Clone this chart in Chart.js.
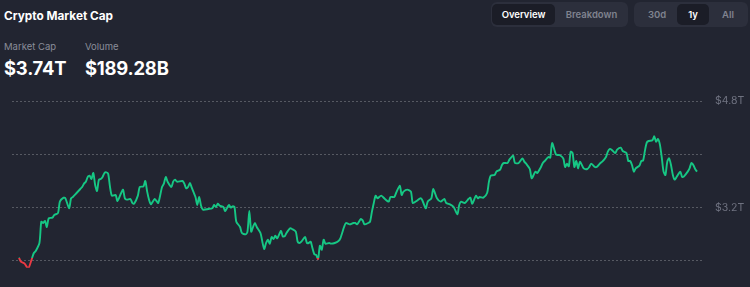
<!DOCTYPE html>
<html lang="en">
<head>
    <meta charset="UTF-8">
    <title>Crypto Market Cap</title>
    <script src="https://cdn.jsdelivr.net/npm/chart.js"></script>
    <style>
        html, body { margin: 0; padding: 0; }
        body {
            width: 750px; height: 287px; overflow: hidden; position: relative;
            background: #222531; font-family: Inter, "Noto Sans", sans-serif; color: #fff;
        }
        .title { position: absolute; left: 4px; top: 9px; font-size: 11.8px; font-weight: 700; }
        .lbl { position: absolute; top: 41px; font-size: 9.5px; color: #8a8d99; }
        .big { position: absolute; top: 57px; font-size: 18.4px; font-weight: 700; letter-spacing: -0.2px; }
        .group { position: absolute; top: 2px; height: 25px; background: #2c2f3c; border-radius: 6px; }
        .btn { position: absolute; top: 2px; height: 21px; line-height: 21px; font-size: 9.5px; font-weight: 600;
               color: #80838f; text-align: center; border-radius: 5px; }
        .btn.on { background: #1b1d27; color: #fff; }
        #wrap { position: absolute; left: 0; top: 88px; width: 750px; height: 199px; }
    </style>
</head>
<body>
    <div class="title">Crypto Market Cap</div>
    <div class="lbl" style="left:4px">Market Cap</div>
    <div class="lbl" style="left:85px">Volume</div>
    <div class="big" style="left:4px">$3.74T</div>
    <div class="big" style="left:85px">$189.28B</div>

    <div class="group" style="left:491px; width:137px">
        <div class="btn on" style="left:1px; width:63px">Overview</div>
        <div class="btn" style="left:66px; width:69px">Breakdown</div>
    </div>
    <div class="group" style="left:634px; width:114px">
        <div class="btn" style="left:4px; width:38px">30d</div>
        <div class="btn on" style="left:43px; width:32px">1y</div>
        <div class="btn" style="left:77px; width:34px">All</div>
    </div>

    <div id="wrap"><canvas id="capChart"></canvas></div>

    <script>
        // day index over the last year
        const days = [
            0, 1, 3, 5, 7, 8, 9, 11, 12, 13,
            14, 15, 16, 18, 19, 21, 22, 24, 25, 27,
            28, 29, 31, 33, 34, 35, 36, 37, 38, 39,
            40, 41, 42, 43, 44, 45, 46, 47, 48, 49,
            50, 52, 53, 55, 56, 57, 58, 60, 61, 62,
            64, 65, 67, 68, 69, 70, 71, 73, 74, 75,
            77, 78, 79, 80, 82, 83, 84, 85, 88, 89,
            90, 91, 92, 93, 95, 96, 97, 98, 99, 102,
            104, 105, 106, 107, 108, 110, 111, 113, 114, 115,
            116, 117, 119, 120, 122, 123, 124, 125, 126, 127,
            128, 130, 131, 132, 133, 134, 135, 136, 137, 138,
            139, 141, 142, 143, 144, 146, 147, 149, 150, 151,
            152, 154, 155, 156, 157, 158, 159, 160, 161, 162,
            163, 164, 165, 167, 168, 170, 172, 173, 175, 176,
            178, 180, 181, 182, 184, 185, 186, 188, 189, 190,
            191, 192, 193, 195, 197, 199, 200, 202, 203, 205,
            206, 207, 209, 211, 212, 214, 216, 217, 219, 220,
            222, 223, 225, 227, 229, 230, 232, 234, 236, 237,
            238, 240, 242, 243, 244, 246, 247, 248, 250, 252,
            253, 254, 256, 257, 259, 260, 261, 263, 264, 266,
            267, 269, 271, 272, 273, 275, 276, 278, 279, 281,
            282, 283, 285, 286, 287, 289, 290, 291, 293, 294,
            295, 296, 297, 298, 299, 300, 301, 302, 304, 306,
            307, 308, 310, 311, 313, 314, 316, 317, 318, 319,
            321, 322, 324, 325, 327, 328, 329, 330, 331, 332,
            334, 335, 336, 337, 338, 339, 341, 342, 343, 344,
            345, 346, 347, 348, 349, 350, 351, 352, 353, 354,
            356, 357, 358, 360, 361, 362, 363, 364, 365
        ];

        // total market cap, trillions USD
        const caps = [
            2.45, 2.39, 2.36, 2.29, 2.44, 2.52, 2.55, 2.67, 2.99, 2.97,
            3.00, 2.91, 3.04, 3.05, 3.09, 3.12, 3.29, 3.35, 3.34, 3.19,
            3.34, 3.36, 3.42, 3.48, 3.51, 3.56, 3.59, 3.66, 3.68, 3.63,
            3.72, 3.54, 3.45, 3.62, 3.63, 3.66, 3.72, 3.73, 3.71, 3.51,
            3.38, 3.39, 3.30, 3.42, 3.47, 3.34, 3.32, 3.33, 3.27, 3.26,
            3.38, 3.51, 3.52, 3.60, 3.44, 3.32, 3.25, 3.33, 3.30, 3.27,
            3.51, 3.56, 3.66, 3.59, 3.51, 3.59, 3.62, 3.59, 3.60, 3.56,
            3.49, 3.51, 3.57, 3.50, 3.36, 3.24, 3.36, 3.23, 3.17, 3.18,
            3.19, 3.24, 3.21, 3.26, 3.23, 3.21, 3.15, 3.24, 3.20, 3.22,
            3.21, 2.99, 2.91, 2.82, 2.80, 2.84, 3.15, 2.84, 2.91, 2.97,
            2.91, 2.82, 2.69, 2.58, 2.67, 2.72, 2.66, 2.76, 2.73, 2.78,
            2.74, 2.85, 2.77, 2.77, 2.82, 2.89, 2.88, 2.84, 2.69, 2.67,
            2.69, 2.76, 2.67, 2.67, 2.69, 2.59, 2.50, 2.49, 2.43, 2.63,
            2.57, 2.72, 2.66, 2.67, 2.66, 2.67, 2.70, 2.74, 2.91, 2.97,
            2.95, 2.97, 2.97, 2.95, 3.03, 3.01, 2.95, 2.97, 2.99, 3.14,
            3.27, 3.38, 3.34, 3.38, 3.33, 3.29, 3.36, 3.36, 3.42, 3.53,
            3.39, 3.44, 3.47, 3.44, 3.27, 3.30, 3.34, 3.32, 3.19, 3.29,
            3.34, 3.48, 3.34, 3.29, 3.33, 3.27, 3.25, 3.21, 3.10, 3.24,
            3.29, 3.27, 3.33, 3.35, 3.26, 3.38, 3.34, 3.36, 3.35, 3.42,
            3.59, 3.68, 3.69, 3.74, 3.77, 3.84, 3.87, 3.87, 3.92, 3.98,
            3.87, 3.87, 3.94, 3.89, 3.86, 3.78, 3.64, 3.74, 3.72, 3.81,
            3.87, 3.90, 3.96, 3.95, 4.17, 4.00, 3.99, 3.99, 3.94, 3.81,
            3.86, 3.82, 4.04, 4.02, 3.81, 3.90, 3.79, 3.89, 3.79, 3.78,
            3.81, 3.86, 3.81, 3.81, 3.87, 3.89, 3.96, 4.04, 4.08, 4.07,
            4.02, 4.07, 4.10, 4.05, 4.02, 3.90, 3.90, 3.84, 3.74, 3.79,
            3.83, 3.90, 3.91, 4.06, 4.18, 4.20, 4.21, 4.27, 4.19, 4.23,
            4.15, 3.96, 3.74, 3.69, 3.89, 3.94, 3.84, 3.69, 3.62, 3.66,
            3.74, 3.66, 3.67, 3.74, 3.79, 3.87, 3.84, 3.78, 3.74
        ];

        const yTickValues = [2.4, 3.2, 4.0, 4.8];
        const yTickLabels = ['', '$3.2T', '', '$4.8T'];

        const GREEN = '#16c784';
        const RED = '#ea3943';

        // green above the opening value, red below it
        function lineColor(context) {
            const chart = context.chart;
            const area = chart.chartArea;
            if (!area) return GREEN;
            const y = chart.scales.y.getPixelForValue(caps[0]);
            let f = (y - area.top) / (area.bottom - area.top);
            f = Math.min(Math.max(f, 0), 1);
            const g = chart.ctx.createLinearGradient(0, area.top, 0, area.bottom);
            g.addColorStop(0, GREEN);
            g.addColorStop(f, GREEN);
            g.addColorStop(f, RED);
            g.addColorStop(1, RED);
            return g;
        }

        const ctx = document.getElementById('capChart').getContext('2d');
        const chart = new Chart(ctx, {
            type: 'line',
            data: {
                datasets: [{
                    data: days.map((d, i) => ({ x: d, y: caps[i] })),
                    borderColor: lineColor,
                    borderWidth: 1.9,
                    pointRadius: 0,
                    tension: 0.25,
                    fill: false
                }]
            },
            options: {
                responsive: true,
                maintainAspectRatio: false,
                animation: false,
                layout: { padding: { left: 12, right: 0, top: 0, bottom: 0 } },
                plugins: { legend: { display: false }, tooltip: { enabled: false } },
                scales: {
                    x: { type: 'linear', min: -4, max: 368, display: false },
                    y: {
                        position: 'right',
                        min: 2.15,
                        max: 4.90,
                        grid: {
                            color: 'rgba(255,255,255,0.24)',
                            lineWidth: 1,
                            drawTicks: false
                        },
                        border: { display: false, dash: [2, 2] },
                        afterBuildTicks: (axis) => {
                            axis.ticks = yTickValues.map(v => ({ value: v }));
                        },
                        afterFit: (axis) => { axis.width = 48; },
                        ticks: {
                            padding: 13,
                            color: '#6f7280',
                            font: { family: 'Inter', size: 10.5 },
                            callback: (value) => {
                                const i = yTickValues.findIndex(v => Math.abs(v - value) < 0.001);
                                return i >= 0 ? yTickLabels[i] : '';
                            }
                        }
                    }
                }
            }
        });

        // fit the value range to the plot box: $4.8T grid at page y 101, $2.4T at 261,
        // first day at page x 19, last day at 697
        const area = chart.chartArea;
        const top0 = 88 + area.top, bot0 = 88 + area.bottom;
        const perPx = (4.8 - 2.4) / (261 - 101);
        chart.options.scales.y.max = 4.8 + (101 - top0) * perPx;
        chart.options.scales.y.min = 2.4 - (bot0 - 261) * perPx;
        const perDay = (697 - 19) / 365;
        chart.options.scales.x.min = -(19 - area.left) / perDay;
        chart.options.scales.x.max = 365 + (area.right - 697) / perDay;
        chart.update();
    </script>
</body>
</html>
